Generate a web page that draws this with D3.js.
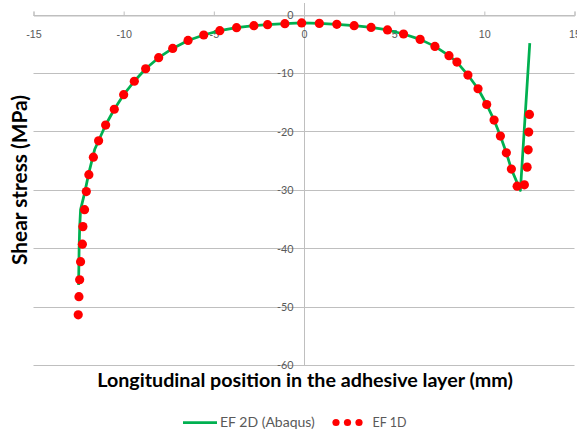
<!DOCTYPE html>
<html>
<head>
<meta charset="utf-8">
<script src="https://cdn.jsdelivr.net/npm/d3@7"></script>
<style>
  body { margin: 0; background: #fff; }
  svg { display: block; font-family: Lato, "Noto Sans", sans-serif; }
</style>
</head>
<body>
<div id="chart"></div>
<script>
// EF 1D (red dots)
const dotX = [-12.52, -12.48, -12.44, -12.39, -12.29, -12.26, -12.17, -12.07, -11.93, -11.68,
  -11.39, -11.0, -10.52, -10.0, -9.41, -8.78, -8.06, -7.28, -6.43, -5.56,
  -4.67, -3.74, -2.78, -2.02, -1.06, -0.13, 0.85, 1.82, 2.78, 3.72,
  4.63, 5.52, 6.44, 7.26, 8.04, 8.48, 9.09, 9.65, 10.13, 10.54,
  10.89, 11.22, 11.5, 11.82, 12.22, 12.37, 12.43, 12.46, 12.5];
const dotY = [-51.4, -48.3, -45.4, -42.3, -39.3, -36.3, -33.4, -30.3, -27.4, -24.4,
  -21.6, -18.9, -16.2, -13.7, -11.4, -9.26, -7.37, -5.78, -4.41, -3.48,
  -2.74, -2.23, -1.89, -1.71, -1.54, -1.42, -1.49, -1.66, -1.89, -2.18,
  -2.62, -3.31, -4.23, -5.43, -7.03, -8.11, -10.34, -12.69, -15.38, -18.05,
  -20.79, -23.66, -26.45, -29.37, -29.14, -26.11, -23.14, -20.11, -17.09];

// EF 2D (Abaqus) (green line)
const lineX = [-12.5, -12.47, -12.44, -12.39, -12.17, -11.93, -11.61, -11.0, -10.52, -10.0,
  -9.41, -8.78, -8.06, -7.28, -6.43, -5.56, -4.67, -3.74, -2.78, -2.02,
  -1.06, -0.13, 0.85, 1.82, 2.78, 3.72, 4.63, 5.52, 6.44, 7.26,
  8.04, 8.48, 9.09, 9.65, 10.13, 10.54, 10.89, 11.22, 11.5, 12.0, 12.52];
const lineY = [-46.3, -40.0, -36.5, -33.4, -30.6, -27.1, -23.1, -18.9, -16.2, -13.7,
  -11.4, -9.26, -7.37, -5.78, -4.41, -3.48, -2.74, -2.23, -1.89, -1.71,
  -1.54, -1.42, -1.49, -1.66, -1.89, -2.18, -2.62, -3.31, -4.23, -5.43,
  -7.03, -8.11, -10.34, -12.69, -15.38, -18.05, -20.79, -23.66, -26.45, -30.1, -4.86];

const xTicks = [-15, -10, -5, 0, 5, 10, 15];
const yTicks = [0, -10, -20, -30, -40, -50, -60];
const seriesNames = ["EF 2D (Abaqus)", "EF 1D"];
const xTitle = "Longitudinal position in the adhesive layer (mm)";
const yTitle = "Shear stress (MPa)";

const width = 577, height = 437;
const green = "#00b050", red = "#ff0000", grid = "#bfbfbf", textCol = "#595959";

const x = d3.scaleLinear().domain([-15, 15]).range([33.5, 574.5]);
const y = d3.scaleLinear().domain([-60, 2]).range([365, 3]);

const svg = d3.select("#chart").append("svg")
  .attr("width", width).attr("height", height);

// scale a text's font so it spans the width seen in the reference
function fitText(sel, target) {
  const w = sel.node().getComputedTextLength();
  const fs = parseFloat(sel.style("font-size"));
  const nfs = fs * target / w;
  sel.style("font-size", nfs + "px");
  return nfs;
}
const fmt = d => d < 0 ? "-" + Math.abs(d) : String(d);

// tick font size, from the width of "-10" in the reference
const probe = svg.append("text").style("font-size", "12px").text("-10");
const tickFs = fitText(probe, 16.5);
probe.remove();

// gridlines
svg.append("g").selectAll("line")
  .data(yTicks)
  .join("line")
    .attr("x1", x(-15)).attr("x2", x(15))
    .attr("y1", d => Math.round(y(d)) + 0.5).attr("y2", d => Math.round(y(d)) + 0.5)
    .attr("stroke", grid).attr("stroke-width", 1);

// vertical axis line at x = 0
svg.append("line")
  .attr("x1", Math.round(x(0)) + 0.5).attr("x2", Math.round(x(0)) + 0.5)
  .attr("y1", y(2)).attr("y2", y(-60))
  .attr("stroke", grid);

// x axis (crosses at y = 0), ticks pointing up
const xAxis = svg.append("g")
  .attr("transform", `translate(0,${Math.round(y(0)) + 0.5})`)
  .call(d3.axisTop(x).tickValues(xTicks).tickSize(4).tickPadding(0));
xAxis.select(".domain").attr("stroke", grid);
xAxis.selectAll(".tick line").attr("stroke", grid);
xAxis.selectAll(".tick text")
  .attr("y", 22).attr("dy", null)
  .attr("fill", textCol).style("font-size", tickFs + "px")
  .text(fmt);

// y tick labels
svg.append("g").selectAll("text")
  .data(yTicks)
  .join("text")
    .attr("x", x(0) - 10.5)
    .attr("y", d => y(d) + 4.3)
    .attr("text-anchor", "end")
    .attr("fill", textCol)
    .style("font-size", tickFs + "px")
    .text(fmt);

// green line
const line = d3.line().x(d => x(d[0])).y(d => y(d[1]));
svg.append("path")
  .datum(d3.zip(lineX, lineY))
  .attr("d", line)
  .attr("fill", "none")
  .attr("stroke", green)
  .attr("stroke-width", 2.75)
  .attr("stroke-linejoin", "round");

// red dots
svg.append("g").selectAll("circle")
  .data(d3.zip(dotX, dotY))
  .join("circle")
    .attr("cx", d => x(d[0]))
    .attr("cy", d => y(d[1]))
    .attr("r", 4.6)
    .attr("fill", red);

// titles
const xt = svg.append("text")
  .attr("x", 305).attr("y", 387)
  .attr("text-anchor", "middle")
  .style("font-weight", "bold").style("font-size", "18px")
  .attr("fill", "#000")
  .text(xTitle);
fitText(xt, 416);

const yt = svg.append("text")
  .attr("transform", "translate(27,180) rotate(-90)")
  .attr("text-anchor", "middle")
  .style("font-weight", "bold").style("font-size", "18px")
  .attr("fill", "#000")
  .text(yTitle);
fitText(yt, 170);

// legend
const leg = svg.append("g");
leg.append("line")
  .attr("x1", 183).attr("x2", 217).attr("y1", 422.5).attr("y2", 422.5)
  .attr("stroke", green).attr("stroke-width", 2.75);
const l1 = leg.append("text")
  .attr("x", 220).attr("y", 427)
  .attr("fill", textCol).style("font-size", "12px")
  .text(seriesNames[0]);
fitText(l1, 95);
leg.selectAll("circle")
  .data([336, 347.5, 359])
  .join("circle")
    .attr("cx", d => d).attr("cy", 422.5).attr("r", 3.6)
    .attr("fill", red);
const l2 = leg.append("text")
  .attr("x", 372.5).attr("y", 427)
  .attr("fill", textCol).style("font-size", "12px")
  .text(seriesNames[1]);
fitText(l2, 34);
</script>
</body>
</html>
